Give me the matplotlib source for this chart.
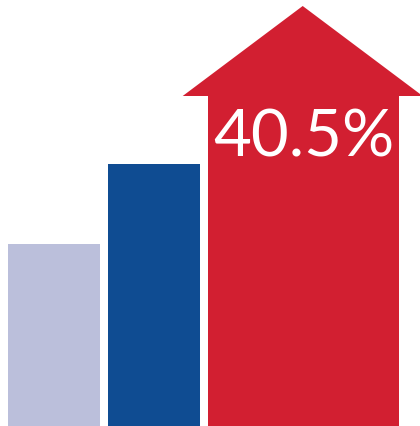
import matplotlib
matplotlib.use("Agg")
from matplotlib import pyplot as plt
from matplotlib.patches import Polygon

# bar heights (in image units, bottom = 0)
labels = ["before", "middle", "now"]
values = [182, 262, 420]
colors = ["#BBBFDB", "#0F4C92", "#D21F31"]
big_label = "40.5%"

fig = plt.figure(figsize=(4.2, 4.27), dpi=100)
ax = fig.add_axes([0, 0, 1, 1])
ax.set_xlim(0, 420)
ax.set_ylim(0, 427)
ax.axis("off")

centers = [54, 154, 303.5]
widths = [92, 92, 191]
head_h = 90
head_half = 120

# first two plain bars
ax.bar(centers[:2], values[:2], width=widths[:2], color=colors[:2], align="center")

# last bar as arrow: body + head
body = values[2] - head_h
ax.bar(centers[2], body, width=widths[2], color=colors[2])
tip_x = centers[2] - 0.8
head = Polygon([[tip_x - head_half, body], [tip_x + head_half, body], [tip_x, values[2]]],
               closed=True, color=colors[2], lw=0)
ax.add_patch(head)

ax.text(centers[2], 270.3, big_label, color="white", fontsize=47, family="Lato",
        ha="center", va="baseline")

fig.savefig("out.png", dpi=100)
